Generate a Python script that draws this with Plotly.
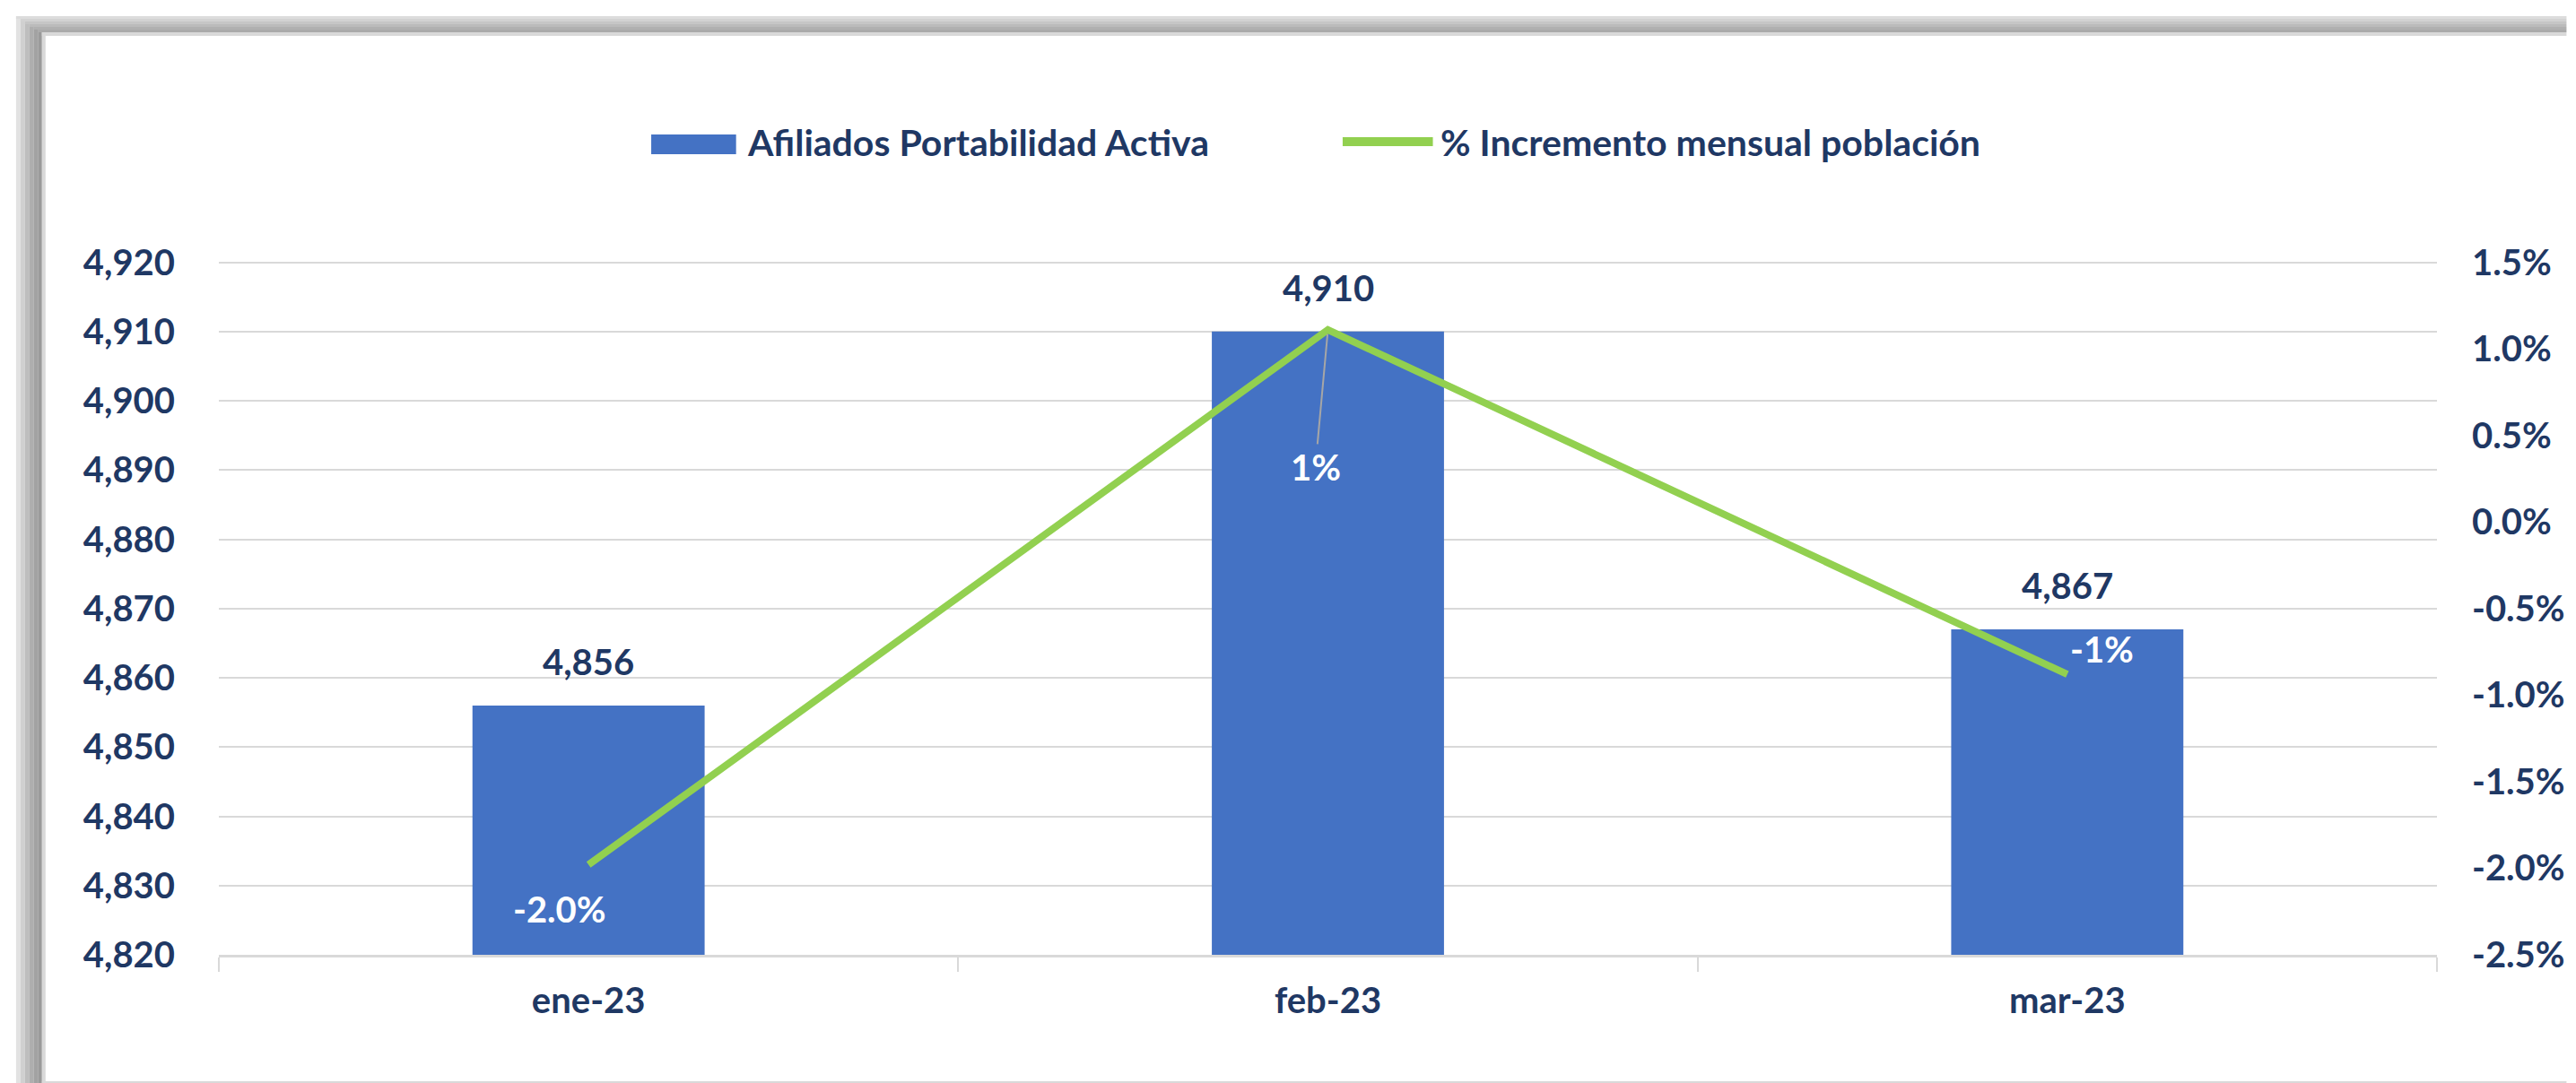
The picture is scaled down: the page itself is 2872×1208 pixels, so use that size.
import plotly.graph_objects as go

# ---- data ----
categories = ["ene-23", "feb-23", "mar-23"]
afiliados = [4856, 4910, 4867]
incremento = [-0.0198, 0.0111, -0.0088]
incremento_labels = ["-2.0%", "1%", "-1%"]
y_ticks = [4820, 4830, 4840, 4850, 4860, 4870, 4880, 4890, 4900, 4910, 4920]
y2_ticks = [-0.025, -0.02, -0.015, -0.01, -0.005, 0.0, 0.005, 0.01, 0.015]
y2_ticktext = ["-2.5%", "-2.0%", "-1.5%", "-1.0%", "-0.5%", "0.0%", "0.5%", "1.0%", "1.5%"]

W, H = 2872, 1208
L, R, T, B = 244, 145, 291, 143
PW, PH = W - L - R, H - T - B

NAVY = "#1F3864"
BLUE = "#4472C4"
GREEN = "#92D050"
GRID = "#D9D9D9"
FONT = "Lato"
FS = 40
LFS = 41

# tiny headroom so the top gridline is drawn; keep both axes aligned
Y_MIN, Y_MAX = 4820, 4920.2
Y2_MIN = -0.025
Y2_MAX = -0.025 + 0.04 * (Y_MAX - Y_MIN) / 100


def px(xpix):
    return (xpix - L) / PW


def py(ypix):
    return (H - B - ypix) / PH


fig = go.Figure()
fig.add_trace(go.Bar(
    x=categories, y=afiliados, name="Afiliados Portabilidad Activa",
    marker=dict(color=BLUE, line=dict(width=0)), width=0.314,
    showlegend=False, yaxis="y",
))
fig.add_trace(go.Scatter(
    x=categories, y=incremento, name="% Incremento mensual población",
    mode="lines", line=dict(color=GREEN, width=8), showlegend=False,
    yaxis="y2",
))

annotations = []
tfont = dict(family=FONT, size=FS, color=NAVY, weight="bold")
lfont = dict(family=FONT, size=LFS, color=NAVY, weight="bold")
wfont = dict(family=FONT, size=FS, color="white", weight="bold")
for c, v in zip(categories, afiliados):
    annotations.append(dict(x=c, y=v, xref="x", yref="y", text=f"{v:,}",
                            showarrow=False, yshift=49, font=tfont))
# percentage labels
annotations.append(dict(x=categories[0], y=incremento[0], xref="x", yref="y2",
                        text=incremento_labels[0], showarrow=False,
                        xshift=-32, yshift=-49, font=wfont))
annotations.append(dict(x=categories[1], y=incremento[1], xref="x", yref="y2",
                        text=incremento_labels[1], showarrow=True, arrowhead=0,
                        arrowwidth=2, arrowcolor="#A6A6A6", ax=-14, ay=153,
                        standoff=5, font=wfont))
annotations.append(dict(x=categories[2], y=incremento[2], xref="x", yref="y2",
                        text=incremento_labels[2], showarrow=False,
                        xshift=39, yshift=28, font=wfont))
# legend
annotations.append(dict(x=px(833), y=py(158), xref="paper", yref="paper",
                        xanchor="left", yanchor="middle", showarrow=False,
                        text="Afiliados Portabilidad Activa", font=lfont))
annotations.append(dict(x=px(1609), y=py(158), xref="paper", yref="paper",
                        xanchor="left", yanchor="middle", showarrow=False,
                        text="% Incremento mensual población", font=lfont))

shapes = []
# legend swatches
shapes.append(dict(type="rect", xref="paper", yref="paper",
                   x0=px(728), x1=px(823), y0=py(172), y1=py(150),
                   fillcolor=BLUE, line=dict(width=0)))
shapes.append(dict(type="line", xref="paper", yref="paper",
                   x0=px(1502), x1=px(1603), y0=py(158), y1=py(158),
                   line=dict(color=GREEN, width=10)))
# frame: left shadow gradient
left_cols = ["#E2E2E2", "#D0D0D0", "#BEBEBE", "#AEAEAE", "#A2A2A2", "#9A9A9A"]
x_edges = [17, 22, 27, 32, 37, 42, 46]
for i, col in enumerate(left_cols):
    shapes.append(dict(type="rect", xref="paper", yref="paper",
                       x0=px(x_edges[i]), x1=px(x_edges[i + 1]),
                       y0=py(H), y1=py(18 + i * 3), fillcolor=col, line=dict(width=0)))
top_cols = ["#DCDCDC", "#D2D2D2", "#C6C6C6", "#BBBBBB", "#B0B0B0", "#AAAAAA"]
y_edges = [18, 21, 24, 27, 30, 33, 36]
for i, col in enumerate(top_cols):
    shapes.append(dict(type="rect", xref="paper", yref="paper",
                       x0=px(x_edges[i]), x1=px(W),
                       y0=py(y_edges[i + 1]), y1=py(y_edges[i]), fillcolor=col,
                       line=dict(width=0)))
# inner light line
shapes.append(dict(type="rect", xref="paper", yref="paper",
                   x0=px(46), x1=px(50), y0=py(H), y1=py(36),
                   fillcolor=GRID, line=dict(width=0)))
shapes.append(dict(type="rect", xref="paper", yref="paper",
                   x0=px(46), x1=px(W), y0=py(40), y1=py(36),
                   fillcolor=GRID, line=dict(width=0)))
# bottom line
shapes.append(dict(type="rect", xref="paper", yref="paper",
                   x0=px(46), x1=px(W), y0=py(H), y1=py(H - 2),
                   fillcolor=GRID, line=dict(width=0)))

fig.update_layout(
    width=W, height=H,
    margin=dict(l=L, r=R, t=T, b=B, pad=0),
    paper_bgcolor="white", plot_bgcolor="white",
    font=dict(family=FONT, size=FS, color=NAVY),
    showlegend=False,
    xaxis=dict(
        type="category", showgrid=False, showline=True, linecolor=GRID,
        linewidth=3, ticks="outside", tickson="boundaries", ticklen=16,
        tickwidth=2, tickcolor=GRID, tickfont=tfont, ticklabelstandoff=14,
        zeroline=False,
    ),
    yaxis=dict(
        range=[Y_MIN, Y_MAX], tickvals=y_ticks, tickformat=",",
        showgrid=True, gridcolor=GRID, gridwidth=2, zeroline=False,
        showline=False, ticks="", tickfont=tfont, ticklabelstandoff=48,
    ),
    yaxis2=dict(
        range=[Y2_MIN, Y2_MAX], tickvals=y2_ticks, ticktext=y2_ticktext,
        overlaying="y", side="right", showgrid=False, zeroline=False,
        showline=False, ticks="", tickfont=tfont, ticklabelstandoff=38,
    ),
    annotations=annotations,
    shapes=shapes,
)

fig.write_html(
    "out.html",
    config={"displayModeBar": False},
    post_script="document.body.style.margin='0';document.body.style.overflow='hidden';",
)
